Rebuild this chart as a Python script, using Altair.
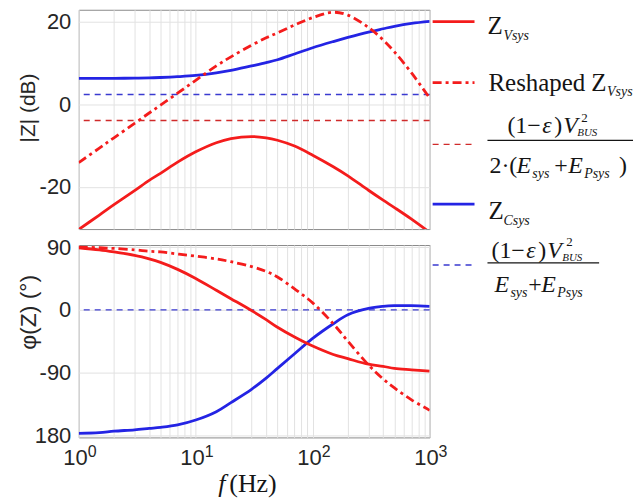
import altair as alt
import pandas as pd

# ---------------- data ----------------
freq = [1, 1.5, 2, 3, 4, 5, 7, 10, 15, 20, 30, 40, 50, 70, 100, 150, 200, 300, 400, 500, 700, 1000]

mag_vsys = [-30.3, -26.8, -24.3, -20.9, -18.4, -16.7, -14.0, -11.5, -9.3, -8.3, -7.8, -8.1, -8.7, -10.1,
            -12.3, -15.1, -17.3, -20.8, -23.2, -25.0, -27.8, -31.0]
mag_reshaped = [-14.1, -10.6, -8.1, -4.6, -2.1, -0.2, 2.7, 5.8, 9.3, 11.5, 14.3, 16.1, 17.3, 19.2,
                21.0, 22.3, 21.6, 18.6, 15.6, 12.7, 7.6, 1.5]
mag_csys = [6.3, 6.3, 6.3, 6.35, 6.4, 6.5, 6.7, 7.0, 7.6, 8.2, 9.3, 10.1, 10.8, 12.2,
            13.7, 15.2, 16.2, 17.5, 18.3, 18.9, 19.6, 20.1]

phase_vsys = [89, 86, 83, 78, 73, 68, 58, 45, 28, 16, -1, -14, -25, -39,
              -52, -64, -70, -78, -81, -84, -86, -88]
phase_reshaped = [90, 89, 88, 86, 84, 83, 80, 77, 73, 69, 62, 55, 47, 30,
                  10, -20, -45, -79, -99, -112, -129, -144]
phase_csys = [-177, -176, -174, -172, -170, -168.5, -165, -158, -146, -133, -114, -98, -84, -63,
              -41, -20, -7, 2, 5, 6, 6, 5]

limit_half_db = [-3.9]   # (1-e)V^2 / (2(Esys+EPsys))
limit_full_db = [2.4]    # (1-e)V^2 / (Esys+EPsys)
limit_phase = [0]

decades = [1, 10, 100, 1000]
decade_exponents = ["0", "1", "2", "3"]
minor_freqs = [2, 3, 4, 5, 6, 7, 8, 9, 20, 30, 40, 50, 60, 70, 80, 90,
               200, 300, 400, 500, 600, 700, 800, 900]
mag_ticks = [-20, 0, 20]
phase_ticks = [-180, -90, 0, 90]

# ---------------- styling / layout ----------------
RED = "#f41c1c"
BLUE = "#2424e4"
DRED = "#d02a2a"
DBLUE = "#3a3ad0"
INK = "#151515"
W, H1, H2, GAP = 352, 220, 193, 16
OX, OY = 78, 8            # page position of the upper plot area
OY2 = OY + H1 + GAP       # page y of the lower plot area
DASHDOT = [9, 4, 3, 4]
DASH = [6, 5]
SERIF = "Liberation Serif"
SANS = "Liberation Sans"

n = len(freq)
mag_df = pd.DataFrame({"f": freq * 3, "v": mag_vsys + mag_reshaped + mag_csys,
                       "s": ["vsys"] * n + ["resh"] * n + ["csys"] * n})
ph_df = pd.DataFrame({"f": freq * 3, "v": phase_vsys + phase_reshaped + phase_csys,
                      "s": ["vsys"] * n + ["resh"] * n + ["csys"] * n})

xscale = alt.Scale(type="log", domain=[1, 1000], nice=False)
grid_vals = sorted(decades + minor_freqs)


def x_enc():
    return alt.X("f:Q", scale=xscale,
                 axis=alt.Axis(values=grid_vals, labels=False, ticks=False, domain=False,
                               grid=True, title=None))


def y_enc(domain, values, title, tx, ty, size, expr):
    return alt.Y("v:Q", scale=alt.Scale(domain=domain, nice=False, zero=False),
                 axis=alt.Axis(values=values, grid=True, ticks=False, domain=False,
                               labelPadding=8, labelExpr=expr, title=title,
                               titleX=tx, titleY=ty, titleAngle=270, titleFontSize=size,
                               titleAlign="center", titleBaseline="middle"))


def curve(df, name, color, y, dash=None, width=2.8):
    kw = dict(color=color, strokeWidth=width, interpolate="catmull-rom", clip=True)
    if dash:
        kw["strokeDash"] = dash
    return (alt.Chart(df).transform_filter(alt.datum.s == name)
            .mark_line(**kw).encode(x=x_enc(), y=y))


def hline(vals, color, y):
    return (alt.Chart(pd.DataFrame({"v": vals}))
            .mark_rule(color=color, strokeWidth=1.4, strokeDash=DASH).encode(y=y))


def txt(s, x, y, oy, size=24, style="normal", font=SERIF, align="left"):
    return (alt.Chart(alt.Data(values=[{}]))
            .mark_text(text=s, align=align, baseline="alphabetic", font=font,
                       fontSize=size, fontStyle=style, color=INK)
            .encode(x=alt.value(x - OX), y=alt.value(y - oy)))


def seg(x1, x2, y, oy, color, width, dash=None):
    kw = dict(color=color, strokeWidth=width)
    if dash:
        kw["strokeDash"] = dash
    return (alt.Chart(alt.Data(values=[{}])).mark_rule(**kw)
            .encode(x=alt.value(x1 - OX), x2=alt.value(x2 - OX), y=alt.value(y - OY)))


label_expr = "datum.value == -180 ? '180' : '' + datum.value"

# ---------------- upper panel ----------------
y_top = y_enc([-30.2, 22.9], mag_ticks, "|Z| (dB)", -50, 98, 21, label_expr)

frame = (alt.Chart(alt.Data(values=[{}])).mark_rect(opacity=0)
         .encode(x=alt.value(-OX), x2=alt.value(636 - OX), y=alt.value(-OY), y2=alt.value(502 - OY)))

legend = [
    # Z_Vsys
    seg(433, 475, 20, OY, RED, 2.8),
    txt("Z", 488, 32, OY, 25),
    txt("Vsys", 504, 38, OY, 14, "italic"),
    # Reshaped Z_Vsys
    seg(433, 475, 81, OY, RED, 2.8, DASHDOT),
    txt("Reshaped", 489, 89, OY, 25),
    txt("Z", 592, 89, OY, 25),
    txt("Vsys", 608, 95, OY, 14, "italic"),
    # (1-e)V^2 / (2(Esys+EPsys))
    seg(433, 475, 143, OY, DRED, 1.4, DASH),
    txt("(1\u2212", 508, 132, OY, 24),
    txt("\u03b5", 543, 132, OY, 24, "italic"),
    txt(")", 555, 132, OY, 24),
    txt("V", 564, 132, OY, 24, "italic"),
    txt("2", 582, 121, OY, 13),
    txt("BUS", 578, 135, OY, 11, "italic"),
    seg(488, 634, 139, OY, INK, 1.2),
    txt("2\u00b7(", 490, 172, OY, 24),
    txt("E", 517, 172, OY, 24, "italic"),
    txt("sys", 533, 177, OY, 14, "italic"),
    txt("+", 555, 172, OY, 24),
    txt("E", 569, 172, OY, 24, "italic"),
    txt("Psys", 585, 177, OY, 14, "italic"),
    txt(")", 620, 172, OY, 24),
    # Z_Csys
    seg(433, 475, 203, OY, BLUE, 2.8),
    txt("Z", 489, 218, OY, 25),
    txt("Csys", 504, 224, OY, 14, "italic"),
    # (1-e)V^2 / (Esys+EPsys)
    seg(433, 475, 264, OY, DBLUE, 1.4, DASH),
    txt("(1\u2212", 492, 257, OY, 24),
    txt("\u03b5", 527, 257, OY, 24, "italic"),
    txt(")", 539, 257, OY, 24),
    txt("V", 548, 257, OY, 24, "italic"),
    txt("2", 567, 245, OY, 13),
    txt("BUS", 563, 260, OY, 11, "italic"),
    seg(488, 600, 262, OY, INK, 1.2),
    txt("E", 495, 291, OY, 24, "italic"),
    txt("sys", 511, 296, OY, 14, "italic"),
    txt("+", 529, 291, OY, 24),
    txt("E", 542, 291, OY, 24, "italic"),
    txt("Psys", 558, 296, OY, 14, "italic"),
]

top = alt.layer(
    frame,
    hline(limit_full_db, DBLUE, y_top),
    hline(limit_half_db, DRED, y_top),
    curve(mag_df, "csys", BLUE, y_top),
    curve(mag_df, "vsys", RED, y_top),
    curve(mag_df, "resh", RED, y_top, DASHDOT),
    *legend,
).properties(width=W, height=H1)

# ---------------- lower panel ----------------
y_bot = y_enc([-182.9, 92.9], phase_ticks, "\u03c6(Z) (\u00b0)", -50, 67, 23, label_expr)

dec_df = pd.DataFrame({"f": decades, "e": decade_exponents})
xlab_main = (alt.Chart(dec_df)
             .mark_text(text="10", align="right", baseline="alphabetic", dx=9,
                        font=SANS, fontSize=22, color="#262626")
             .encode(x=alt.X("f:Q", scale=xscale), y=alt.value(H2 + 28)))
xlab_exp = (alt.Chart(dec_df)
            .mark_text(align="left", baseline="alphabetic", dx=9,
                       font=SANS, fontSize=16, color="#262626")
            .encode(x=alt.X("f:Q", scale=xscale), y=alt.value(H2 + 20), text="e:N"))

bottom = alt.layer(
    hline(limit_phase, DBLUE, y_bot),
    curve(ph_df, "csys", BLUE, y_bot),
    curve(ph_df, "vsys", RED, y_bot),
    curve(ph_df, "resh", RED, y_bot, DASHDOT),
    xlab_main,
    xlab_exp,
    txt("f", 218, 492, OY2, 26, "italic"),
    txt("(Hz)", 229, 492, OY2, 26),
).properties(width=W, height=H2)

chart = (alt.vconcat(top, bottom, spacing=GAP, bounds="flush", padding=0)
         .configure_view(stroke="#8a8a8a", strokeWidth=1)
         .configure_axis(gridColor="#e2e2e2", gridWidth=1, labelFont=SANS, labelFontSize=22,
                         labelColor="#262626", titleFont=SANS, titleFontWeight="normal",
                         titleColor="#262626"))

chart.save("out.html", embed_options={"renderer": "svg", "actions": False})
